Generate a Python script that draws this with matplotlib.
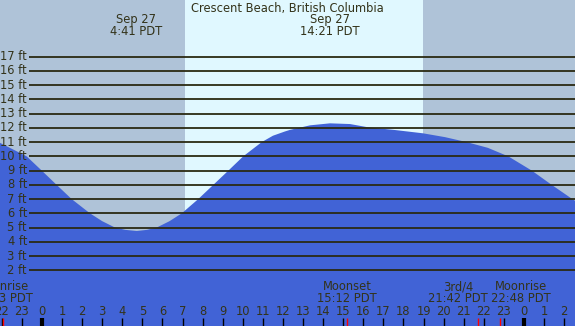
import matplotlib
matplotlib.use("Agg")
import matplotlib.pyplot as plt
import matplotlib.transforms as mtransforms

# tide heights (ft); hours relative to midnight Sep 27
hours = [-2.09, -0.76, -0.01, 0.73, 1.48, 2.39, 3.0, 3.64, 4.15, 4.72, 5.23, 5.71,
         6.35, 6.96, 7.78, 8.53, 9.28, 10.02, 10.94, 11.5, 12.1, 12.35, 13.35, 14.34,
         15.34, 16.24, 17.58, 18.97, 20.07, 21.15, 22.2, 23.22, 24.39, 25.38, 26.41, 26.54]
heights = [10.95, 10.0, 9.0, 8.0, 7.0, 6.0, 5.45, 5.0, 4.84, 4.76, 4.84, 5.0,
           5.45, 6.0, 7.0, 8.0, 9.0, 10.0, 11.0, 11.45, 11.75, 11.86, 12.18, 12.32,
           12.27, 12.04, 11.85, 11.62, 11.35, 11.0, 10.6, 10.0, 9.0, 8.0, 7.0, 6.88]

title = "Crescent Beach, British Columbia"
extremes_t = [4.68, 14.35]
extremes_lab = [("Sep 27", "4:41 PDT"), ("Sep 27", "14:21 PDT")]

sunrise, sunset = 7.12, 18.97

moon_t = [-1.94, 15.2, 21.7, 22.8]
moon_name = ["Moonrise", "Moonset", "3rd/4", "Moonrise"]
moon_time = ["22:03 PDT", "15:12 PDT", "21:42 PDT", "22:48 PDT"]

ft_levels = list(range(2, 18))
hour_ticks = list(range(-2, 27))

NIGHT = "#afc3d8"
DAY = "#e0f8ff"
WATER = "#4163d6"
LINE = "#2a2a12"
TXT = "#33331a"

XMIN, XMAX = -2.09, 26.54
YMIN, YMAX = -1.91, 20.98

fig = plt.figure(figsize=(5.75, 3.26), dpi=100)
ax = fig.add_axes([0, 0, 1, 1])
ax.set_xlim(XMIN, XMAX)
ax.set_ylim(YMIN, YMAX)
ax.axis("off")

ax.axvspan(XMIN, sunrise, color=NIGHT, lw=0)
ax.axvspan(sunrise, sunset, color=DAY, lw=0)
ax.axvspan(sunset, XMAX, color=NIGHT, lw=0)

ax.fill_between(hours, heights, YMIN, color=WATER, lw=0)

fs = 8.3
line_x0 = XMIN + 29 / 20.08
ax.hlines(ft_levels, line_x0, XMAX, color=LINE, lw=1.3)
for f in ft_levels:
    ax.text(line_x0 - 0.1, f, f"{f} ft", ha="right", va="center", fontsize=fs, color=TXT)

ax.text(0.5, 0.975, title, transform=ax.transAxes, ha="center", va="center",
        fontsize=fs, color=TXT)
tb = mtransforms.blended_transform_factory(ax.transData, ax.transAxes)
for t, (d, tm) in zip(extremes_t, extremes_lab):
    ax.text(t, 0.939, d, transform=tb, ha="center", va="center", fontsize=fs, color=TXT)
    ax.text(t, 0.902, tm, transform=tb, ha="center", va="center", fontsize=fs, color=TXT)

# hour ticks along the bottom
for h in hour_ticks:
    mid = h % 24 == 0
    ax.plot([h, h], [0, 0.0245], transform=tb, color="black",
            lw=3 if mid else 1, solid_capstyle="butt")
    ax.text(h, 0.043, str(h % 24), transform=tb, ha="center", va="center",
            fontsize=fs, color=TXT)

# moon events
shift = [0, 0, -1.0, 1.05]  # label nudges so neighbours don't collide
for t, n, tm, s in zip(moon_t, moon_name, moon_time, shift):
    ax.plot([t, t], [0, 0.0245], transform=tb, color="red", lw=1, solid_capstyle="butt")
    ax.text(t + s, 0.12, n, transform=tb, ha="center", va="center", fontsize=fs, color=TXT)
    ax.text(t + s, 0.083, tm, transform=tb, ha="center", va="center", fontsize=fs, color=TXT)

fig.savefig("out.png", dpi=100)
